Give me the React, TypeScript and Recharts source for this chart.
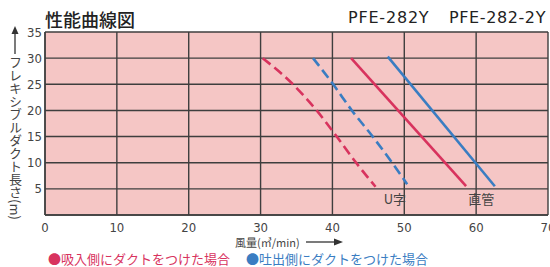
import { LineChart, Line, XAxis, YAxis, CartesianGrid, ReferenceDot } from 'recharts'

// 風量 (m3/min) vs フレキシブルダクト長さ (m)
const redDashed = [
  { x: 30.3, y: 30 },
  { x: 34.5, y: 25 },
  { x: 37.8, y: 20 },
  { x: 40.6, y: 15 },
  { x: 43.3, y: 10 },
  { x: 46.0, y: 5.4 },
]
const blueDashed = [
  { x: 37.3, y: 30 },
  { x: 40.1, y: 25 },
  { x: 42.7, y: 20 },
  { x: 45.6, y: 15 },
  { x: 48.3, y: 10 },
  { x: 50.4, y: 5.9 },
]
const redSolid = [
  { x: 42.6, y: 30 },
  { x: 58.6, y: 5.5 },
]
const blueSolid = [
  { x: 47.7, y: 30.3 },
  { x: 62.6, y: 5.5 },
]

const xTicks = [0, 10, 20, 30, 40, 50, 60, 70]
const yTicks = [5, 10, 15, 20, 25, 30, 35]

const notes = [
  { x: 48.7, y: 2.9, text: 'U字' },
  { x: 60.7, y: 2.9, text: '直管' },
]

const RED = '#d8335e'
const BLUE = '#3a7dc2'
const GRID = '#3e3e3e'
const jp = "'Noto Sans CJK JP', 'Noto Sans', sans-serif"
const tickFont = "'DejaVu Sans Condensed', 'Liberation Sans Narrow', 'DejaVu Sans', sans-serif"

export default function App() {
  return (
    <div style={{ position: 'absolute', left: 0, top: 0, width: 550, height: 267, overflow: 'hidden', background: '#fff' }}>
      <LineChart width={550} height={267} margin={{ top: 32, right: 2, bottom: 32, left: 15 }}>
        <CartesianGrid fill="#f5c6c5" fillOpacity={1} stroke={GRID} strokeWidth={1.4} />
        <XAxis
          type="number"
          dataKey="x"
          domain={[0, 70]}
          ticks={xTicks}
          interval={0}
          height={20}
          tickLine={false}
          axisLine={{ stroke: GRID, strokeWidth: 1.4 }}
          tick={{ fontSize: 13, fill: '#444', fontFamily: tickFont }}
          allowDataOverflow
        />
        <YAxis
          type="number"
          dataKey="y"
          domain={[0, 35]}
          ticks={yTicks}
          interval={0}
          width={30}
          tickLine={false}
          tickSize={0}
          tickMargin={3}
          axisLine={{ stroke: GRID, strokeWidth: 1.4 }}
          tick={{ fontSize: 13, fill: '#444', fontFamily: tickFont }}
        />
        <Line data={redDashed} dataKey="y" type="monotone" stroke={RED} strokeWidth={2.6} strokeDasharray="10 5" dot={false} isAnimationActive={false} />
        <Line data={blueDashed} dataKey="y" type="monotone" stroke={BLUE} strokeWidth={2.6} strokeDasharray="10 5" dot={false} isAnimationActive={false} />
        <Line data={redSolid} dataKey="y" type="linear" stroke={RED} strokeWidth={2.6} dot={false} isAnimationActive={false} />
        <Line data={blueSolid} dataKey="y" type="linear" stroke={BLUE} strokeWidth={2.6} dot={false} isAnimationActive={false} />
        {notes.map((n) => (
          <ReferenceDot
            key={n.text}
            x={n.x}
            y={n.y}
            r={0}
            label={{ value: n.text, position: 'center', fontSize: 13, fill: '#444', fontFamily: jp }}
          />
        ))}
      </LineChart>

      {/* title */}
      <div style={{ position: 'absolute', left: 45, top: 7, fontSize: 18, fontFamily: jp, fontWeight: 500, color: '#222', lineHeight: '24px' }}>
        性能曲線図
      </div>
      <div style={{ position: 'absolute', left: 348, top: 7, fontSize: 16, fontFamily: "'DejaVu Sans', sans-serif", letterSpacing: 0.8, color: '#222', lineHeight: '22px', whiteSpace: 'nowrap' }}>
        PFE-282Y
      </div>
      <div style={{ position: 'absolute', left: 449, top: 7, fontSize: 16, fontFamily: "'DejaVu Sans', sans-serif", letterSpacing: 0.6, color: '#222', lineHeight: '22px', whiteSpace: 'nowrap' }}>
        PFE-282-2Y
      </div>

      {/* y axis label */}
      <svg style={{ position: 'absolute', left: 9, top: 26 }} width={12} height={30}>
        <line x1={6} y1={4} x2={6} y2={28} stroke="#333" strokeWidth={1.3} />
        <polygon points="6,0 2.5,8 9.5,8" fill="#333" />
      </svg>
      <div style={{ position: 'absolute', left: 7, top: 56, writingMode: 'vertical-rl', fontSize: 13, fontFamily: jp, color: '#444', lineHeight: '16px', whiteSpace: 'nowrap' }}>
        フレキシブルダクト長さ(m)
      </div>

      {/* x axis label */}
      <div style={{ position: 'absolute', left: 235, top: 234, fontSize: 11, fontFamily: jp, color: '#444', lineHeight: '16px', whiteSpace: 'nowrap' }}>
        風量(㎥/min)
      </div>
      <svg style={{ position: 'absolute', left: 306, top: 237 }} width={38} height={10}>
        <line x1={0} y1={5} x2={30} y2={5} stroke="#333" strokeWidth={1.3} />
        <polygon points="37,5 28,1.5 28,8.5" fill="#333" />
      </svg>

      {/* legend */}
      <div style={{ position: 'absolute', left: 48, top: 250, fontSize: 13, fontFamily: jp, color: RED, lineHeight: '17px', whiteSpace: 'nowrap' }}>
        ●吸入側にダクトをつけた場合
      </div>
      <div style={{ position: 'absolute', left: 246, top: 250, fontSize: 13, fontFamily: jp, color: BLUE, lineHeight: '17px', whiteSpace: 'nowrap' }}>
        ●吐出側にダクトをつけた場合
      </div>
    </div>
  )
}
